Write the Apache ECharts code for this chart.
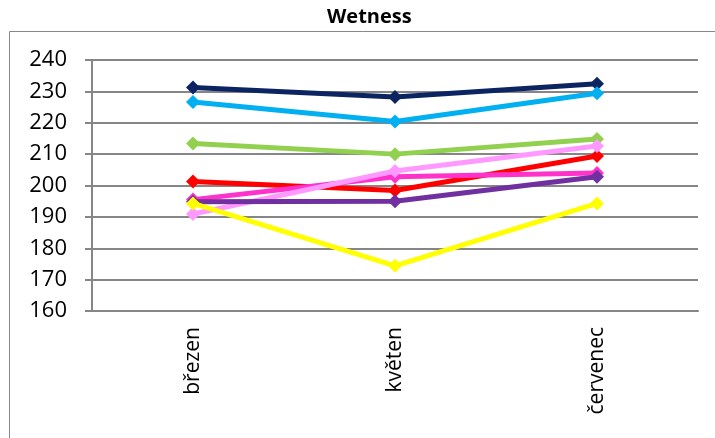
<!DOCTYPE html>
<html><head><meta charset="utf-8">
<script src="https://cdn.jsdelivr.net/npm/echarts@6/dist/echarts.min.js"></script>
<style>html,body{margin:0;padding:0;background:#fff}#c{width:715px;height:438px}</style>
</head><body><div id="c"></div>
<script>
const categories = ['březen', 'květen', 'červenec'];
const yTicks = [160, 170, 180, 190, 200, 210, 220, 230, 240];
const seriesNames = ['Řada 1', 'Řada 2', 'Řada 3', 'Řada 4', 'Řada 5', 'Řada 6', 'Řada 7', 'Řada 8'];
const navy = [231.2, 228.2, 232.4];
const skyBlue = [226.6, 220.4, 229.4];
const green = [213.4, 210.0, 214.8];
const red = [201.3, 198.4, 209.4];
const magenta = [195.5, 202.8, 204.0];
const lightPink = [190.9, 204.6, 212.6];
const purple = [194.8, 195.0, 202.8];
const yellow = [194.3, 174.4, 194.3];
const seriesData = [navy, skyBlue, green, red, magenta, lightPink, purple, yellow];
const colors = ['#0C2461', '#00B0F0', '#92D050', '#FF0000', '#FF33CC', '#FF99FF', '#7030A0', '#FFFF00'];

const chart = echarts.init(document.getElementById('c'));
chart.setOption({
  animation: false,
  title: {
    text: 'Wetness', left: 322, top: 2,
    textStyle: { fontFamily: 'Open Sans', fontWeight: 'bold', fontSize: 20, color: '#000' }
  },
  graphic: [{
    type: 'rect', shape: { x: 9.5, y: 31.5, width: 720, height: 420 },
    style: { fill: 'none', stroke: '#888', lineWidth: 1 }, silent: true, z: -1
  }],
  grid: { left: 92, right: 17, top: 60, bottom: 127, containLabel: false },
  xAxis: {
    type: 'category', data: categories, boundaryGap: true,
    axisLine: { lineStyle: { color: '#868686', width: 2 } },
    axisTick: { alignWithLabel: true, length: 6, lineStyle: { color: '#868686', width: 2 } },
    axisLabel: { rotate: 90, fontFamily: 'Open Sans', fontSize: 21, color: '#000', margin: 16 }
  },
  yAxis: {
    type: 'value', min: yTicks[0], max: yTicks[yTicks.length - 1], interval: 10,
    axisLine: { show: true, lineStyle: { color: '#868686', width: 2 } },
    axisTick: { show: true, length: 7, lineStyle: { color: '#868686', width: 2 } },
    splitLine: { lineStyle: { color: '#868686', width: 2 } },
    axisLabel: { fontFamily: 'Open Sans', fontSize: 22, color: '#000', margin: 25 }
  },
  series: seriesData.map((d, i) => ({
    name: seriesNames[i], type: 'line', data: d,
    symbol: 'diamond', symbolSize: 14, showSymbol: true,
    lineStyle: { color: colors[i], width: 5 },
    itemStyle: { color: colors[i] }, z: 2 + i
  }))
});
</script></body></html>
